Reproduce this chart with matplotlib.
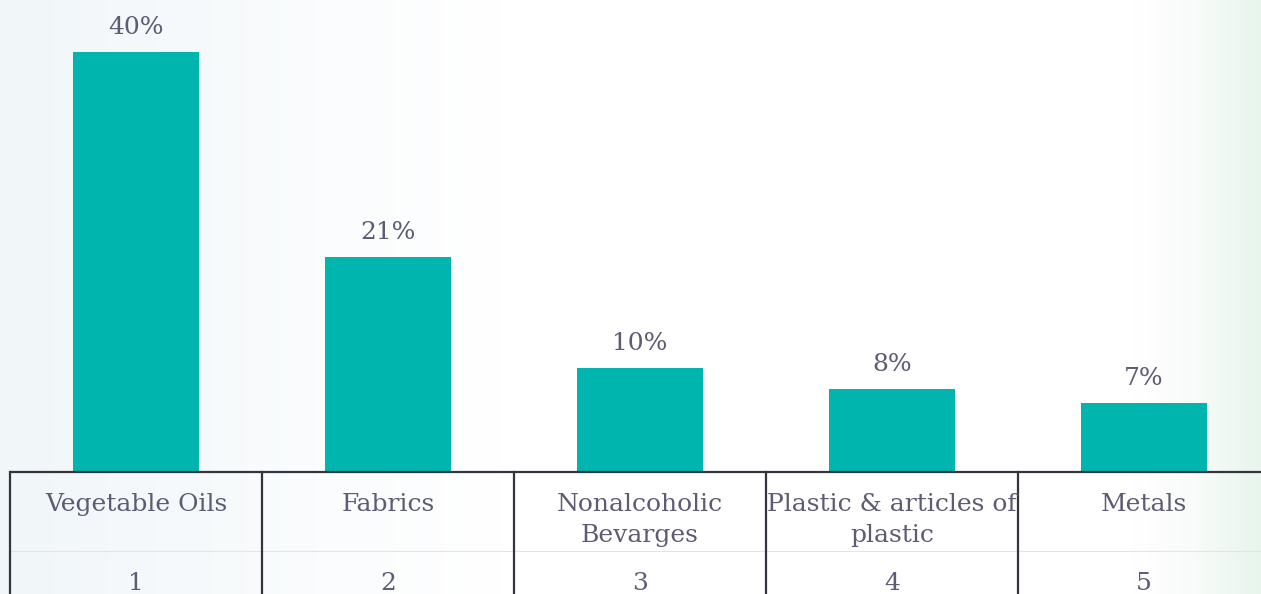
import numpy as np
import matplotlib
matplotlib.use("Agg")
from matplotlib import pyplot as plt
from matplotlib.colors import LinearSegmentedColormap
from matplotlib.transforms import blended_transform_factory

# data
categories = ["Vegetable Oils", "Fabrics", "Nonalcoholic\nBevarges",
              "Plastic & articles of\nplastic", "Metals"]
ranks = ["1", "2", "3", "4", "5"]
shares = [40.0, 20.5, 9.9, 7.9, 6.6]
share_labels = ["40%", "21%", "10%", "8%", "7%"]

bar_color = "#00b5ae"
text_color = "#5e5b74"
line_color = "#34343f"
font = "DejaVu Serif"

W, H = 1261, 594
fig = plt.figure(figsize=(W / 100, H / 100), dpi=100)

# faint background wash
bg = fig.add_axes([0, 0, 1, 1], zorder=-10)
bg.axis("off")
cmap = LinearSegmentedColormap.from_list(
    "wash", [(0, "#f1f6f9"), (0.25, "#fafcfd"), (0.4, "#ffffff"),
             (0.9, "#ffffff"), (0.95, "#f8fbf9"), (1, "#e8f5ec")])
grad = np.linspace(0, 1, 256).reshape(1, -1)
bg.imshow(grad, aspect="auto", cmap=cmap, extent=[0, 1, 0, 1])

ax = fig.add_axes([10 / W, (H - 472) / H, (W - 10) / W, 472 / H])
ax.patch.set_alpha(0)
x = np.arange(len(categories))
bars = ax.bar(x, shares, width=0.5, color=bar_color)
ax.set_xlim(-0.5, (W - 10) / 252 - 0.5)
ax.set_ylim(0, 472 / 10.5)
for s in ax.spines.values():
    s.set_visible(False)
ax.set_xticks([])
ax.set_yticks([])

for b, lab in zip(bars, share_labels):
    ax.annotate(lab, (b.get_x() + b.get_width() / 2, b.get_height()),
                xytext=(0, 9.5), textcoords="offset points",
                ha="center", va="bottom", fontsize=18, family=font,
                color=text_color)

# table under the bars
tr = blended_transform_factory(ax.transData, ax.transAxes)
y_bot = -122 / 472
ax.plot([-0.5, 10], [0, 0], transform=tr, color=line_color, lw=1.6,
        clip_on=False, solid_capstyle="butt")
ax.plot([-0.5, 10], [-79 / 472, -79 / 472], transform=tr, color="#e2e4e8",
        lw=0.8, clip_on=False)
for i in range(len(categories)):
    ax.plot([i - 0.5, i - 0.5], [0, y_bot], transform=tr, color=line_color,
            lw=1.6, clip_on=False)
    ax.text(i, -21 / 472, categories[i], transform=tr, ha="center", va="top",
            fontsize=18, family=font, color=text_color, linespacing=1.45)
    ax.text(i, -111 / 472, ranks[i], transform=tr, ha="center", va="center",
            fontsize=18, family=font, color=text_color)

fig.savefig("out.png", dpi=100)
